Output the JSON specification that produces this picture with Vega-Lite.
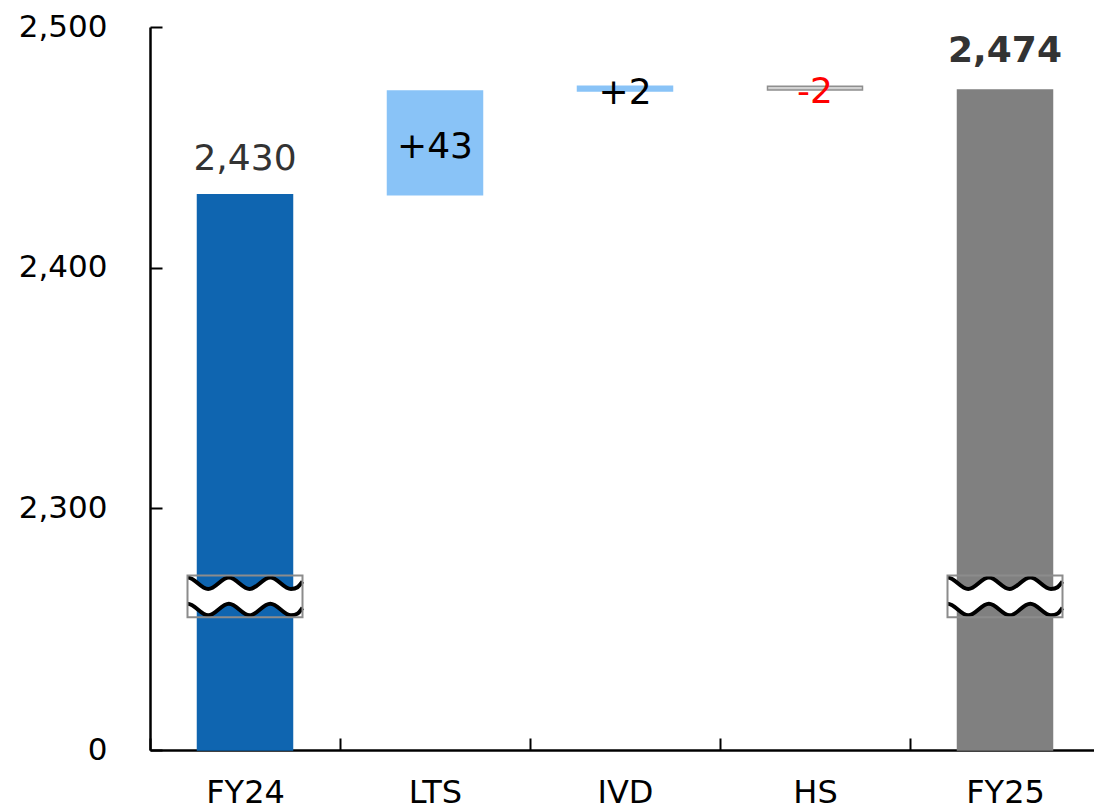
{
  "$schema": "https://vega.github.io/schema/vega-lite/v6.json",
  "autosize": {"type": "none"},
  "padding": {"left": 150, "top": 27, "right": -6, "bottom": 61},
  "width": 950,
  "height": 723,
  "background": "white",
  "config": {
    "view": {"stroke": null},
    "font": "DejaVu Sans",
    "axisY": {
      "title": null,
      "labelFontSize": 31,
      "labelColor": "#000000",
      "labelPadding": 55,
      "domainColor": "#000000",
      "domainWidth": 2.5,
      "tickColor": "#000000",
      "tickWidth": 2,
      "tickSize": -12,
      "grid": false
    }
  },
  "datasets": {
    "bars": [
      {"cat": "FY24", "start": 0, "end": 2430.3, "kind": "FY24", "label": "2,430"},
      {"cat": "LTS", "start": 2430.3, "end": 2473.4, "kind": "up", "label": "+43"},
      {"cat": "IVD", "start": 2473.4, "end": 2475.4, "kind": "up", "label": "+2"},
      {"cat": "HS", "start": 2475.4, "end": 2473.8, "kind": "down", "label": "-2"},
      {"cat": "FY25", "start": 0, "end": 2473.8, "kind": "FY25", "label": "2,474"}
    ],
    "breaks": [
      {"cat": "FY24", "brk": 1460},
      {"cat": "FY25", "brk": 1460}
    ]
  },
  "encoding": {
    "x": {
      "field": "cat",
      "type": "nominal",
      "sort": ["FY24", "LTS", "IVD", "HS", "FY25"],
      "scale": {"paddingInner": 0, "paddingOuter": 0},
      "axis": {
        "title": null,
        "labelAngle": 0,
        "labelFontSize": 32,
        "labelColor": "#000000",
        "labelPadding": 39,
        "domainColor": "#000000",
        "domainWidth": 2.5,
        "tickColor": "#000000",
        "tickWidth": 2,
        "tickSize": -12,
        "tickBand": "extent",
        "grid": false
      }
    }
  },
  "layer": [
    {
      "data": {"name": "bars"},
      "mark": {"type": "bar", "width": {"band": 0.5}, "strokeWidth": 1.5},
      "encoding": {
        "y": {
          "field": "start",
          "type": "quantitative",
          "scale": {"domain": [0, 2300, 2500], "range": [723, 481, 0], "nice": false, "zero": false},
          "axis": {"title": null, "values": [0, 2300, 2400, 2500], "labelExpr": "format(datum.value, ',')", "labelPadding": 55, "labelFontSize": 31}
        },
        "y2": {"field": "end"},
        "color": {
          "field": "kind",
          "type": "nominal",
          "scale": {"domain": ["FY24", "up", "down", "FY25"], "range": ["#0f65b0", "#89c3f7", "#d2d2d2", "#808080"]},
          "legend": null
        },
        "stroke": {
          "field": "kind",
          "type": "nominal",
          "scale": {"domain": ["FY24", "up", "down", "FY25"], "range": ["#0f65b0", "#89c3f7", "#8f8f8f", "#808080"]},
          "legend": null
        }
      }
    },
    {
      "data": {"name": "breaks"},
      "mark": {
        "type": "point",
        "shape": "M-1,-0.33 C-0.87,-0.33 -0.77,-0.13 -0.64,-0.13 S-0.41,-0.33 -0.28,-0.33 S-0.05,-0.13 0.08,-0.13 S0.31,-0.33 0.44,-0.33 S0.67,-0.13 0.8,-0.13 S0.95,-0.2 1,-0.26 L1,0.2 C0.95,0.26 0.93,0.33 0.8,0.33 C0.67,0.33 0.57,0.13 0.44,0.13 C0.31,0.13 0.21,0.33 0.08,0.33 C-0.05,0.33 -0.15,0.13 -0.28,0.13 C-0.41,0.13 -0.51,0.33 -0.64,0.33 C-0.77,0.33 -0.87,0.13 -1,0.13 Z",
        "size": 13225,
        "filled": true,
        "color": "white",
        "strokeWidth": 0,
        "opacity": 1
      },
      "encoding": {
        "y": {"field": "brk", "type": "quantitative"}
      }
    },
    {
      "data": {"name": "breaks"},
      "mark": {
        "type": "point",
        "shape": "M-1,-0.33 C-0.87,-0.33 -0.77,-0.13 -0.64,-0.13 S-0.41,-0.33 -0.28,-0.33 S-0.05,-0.13 0.08,-0.13 S0.31,-0.33 0.44,-0.33 S0.67,-0.13 0.8,-0.13 S0.95,-0.2 1,-0.26 M-1,0.13 C-0.87,0.13 -0.77,0.33 -0.64,0.33 S-0.41,0.13 -0.28,0.13 S-0.05,0.33 0.08,0.33 S0.31,0.13 0.44,0.13 S0.67,0.33 0.8,0.33 S0.95,0.26 1,0.2",
        "size": 13225,
        "filled": false,
        "color": "#000000",
        "strokeWidth": 4,
        "opacity": 1
      },
      "encoding": {
        "y": {"field": "brk", "type": "quantitative"}
      }
    },
    {
      "data": {"name": "breaks"},
      "mark": {
        "type": "point",
        "shape": "M-1,-0.365 L1,-0.365 L1,0.365 L-1,0.365 Z",
        "size": 13225,
        "filled": false,
        "color": "#8c8c8c",
        "strokeWidth": 2,
        "opacity": 1
      },
      "encoding": {
        "y": {"field": "brk", "type": "quantitative"}
      }
    },
    {
      "data": {"name": "bars"},
      "transform": [{"filter": "datum.cat === 'FY24'"}],
      "mark": {"type": "text", "fontSize": 36, "color": "#333333", "baseline": "alphabetic", "dy": -25},
      "encoding": {
        "y": {"field": "end", "type": "quantitative"},
        "text": {"field": "label"}
      }
    },
    {
      "data": {"name": "bars"},
      "transform": [{"filter": "datum.cat === 'FY25'"}],
      "mark": {"type": "text", "fontSize": 36, "fontWeight": "bold", "color": "#333333", "baseline": "alphabetic", "dy": -28},
      "encoding": {
        "y": {"field": "end", "type": "quantitative"},
        "text": {"field": "label"}
      }
    },
    {
      "data": {"name": "bars"},
      "transform": [
        {"filter": "datum.kind === 'up' || datum.kind === 'down'"},
        {"calculate": "(datum.start + datum.end) / 2", "as": "mid"}
      ],
      "mark": {"type": "text", "fontSize": 36, "baseline": "alphabetic", "dy": 15},
      "encoding": {
        "y": {"field": "mid", "type": "quantitative"},
        "text": {"field": "label"},
        "color": {
          "field": "kind",
          "type": "nominal",
          "scale": {"domain": ["FY24", "up", "down", "FY25"], "range": ["#0f65b0", "#000000", "#ff0000", "#808080"]},
          "legend": null
        }
      }
    }
  ],
  "resolve": {"scale": {"color": "independent"}}
}
